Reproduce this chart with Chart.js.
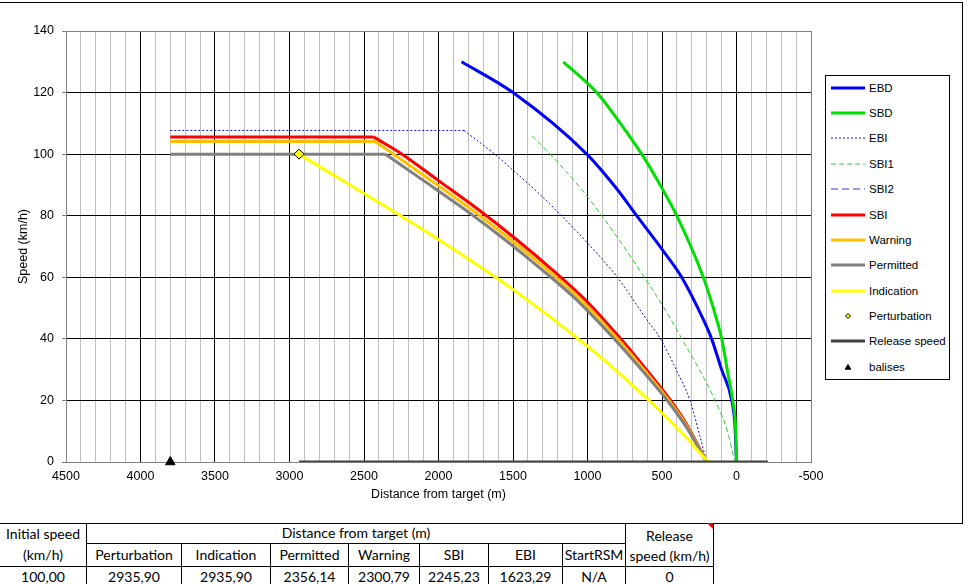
<!DOCTYPE html>
<html>
<head>
<meta charset="utf-8">
<script src="https://cdn.jsdelivr.net/npm/chart.js@4.4.0/dist/chart.umd.min.js"></script>
<style>
html,body{margin:0;padding:0;background:#fff;overflow:hidden;}
#wrap{position:relative;width:970px;height:584px;overflow:hidden;}
#frame{position:absolute;left:-2px;top:2px;width:965px;height:522px;border:1px solid #000;box-sizing:border-box;}
#c{position:absolute;left:0;top:0;}
#legend{position:absolute;left:825px;top:75px;width:125px;height:305px;border:1px solid #000;box-sizing:border-box;background:#fff;font-family:'Liberation Sans',Arial,sans-serif;font-size:11.5px;color:#000;}
.li{position:absolute;left:0;width:120px;height:14px;}
.li svg{position:absolute;left:5px;top:0;}
.li span{position:absolute;left:43px;top:0;line-height:14px;white-space:nowrap;}
#tbl{position:absolute;left:-1px;top:523px;border-collapse:collapse;table-layout:fixed;font-family:Lato,'Open Sans',sans-serif;font-size:14px;color:#000;}
#tbl td{border:1px solid #000;padding:0;text-align:center;white-space:nowrap;overflow:hidden;vertical-align:middle;line-height:17px;}
#tbl td span.up{position:relative;top:-1px;}
#cmt{position:absolute;left:707px;top:523px;width:0;height:0;border-left:6px solid transparent;border-top:6px solid #e00;}
</style>
</head>
<body>
<div id="wrap">
  <div id="frame"></div>
  <canvas id="c" width="970" height="523"></canvas>
  <div id="legend"></div>
  <table id="tbl"></table>
  <div id="cmt"></div>
</div>
<script>
// ---- data (distance from target in m, speed in km/h) ----
const EBD_DIST  = [1845,1500,1005,800,670,491,368,223,167,100,32,10,0];
const EBD_SPEED = [130,120,100,88.5,80,68.5,60,46.3,40,30,20,11.6,0];

const SBD_DIST  = [1162,938,780,636,495,401,223,133,99,62,26,5,0];
const SBD_SPEED = [130,120,110,100,88.5,80,60,46.3,40,30,20,10,0];

const EBI_DIST  = [3800,1829,1623,1498,1319,1175,1001,800,603,510,400,312,245,200];
const EBI_SPEED = [107.7,107.7,100,94.7,86.9,80,71.2,60,46.3,40,29.5,20,8.3,0];

const SBI1_DIST  = [1370,1250,1039,904,757,618,486,401,367,249,144,61,11];
const SBI1_SPEED = [105.9,100,88.5,80,70,60,50,43,40,30,20,10,0];

const SBI2_DIST  = [];
const SBI2_SPEED = [];

const SBI_DIST  = [3800,2437,2245,2000,1733,1475,1240,1005,850,715,580,435,320,200];
const SBI_SPEED = [105.6,105.6,100,91.4,82,72.2,62.6,52.2,44,36.5,28.5,19.5,11,0];

const WARN_DIST  = [3800,2426,2301,2050,1778,1515,1274,1034,874,735,596,446,326,200];
const WARN_SPEED = [104.1,104.1,100,91.4,82,72.2,62.6,52.2,44,36.5,28.5,19.5,11,0];

const PERM_DIST  = [3800,2356,2100,1823,1554,1309,1062,898,755,611,457,332,200];
const PERM_SPEED = [100,100,91.4,82,72.2,62.6,52.2,44,36.5,28.5,19.5,11,0];

const IND_DIST  = [2936,2001,1498,1005,715,502,350,190];
const IND_SPEED = [100,72.3,56,37.8,25.7,16,8.6,0];

const PERT_DIST  = [2935.9];
const PERT_SPEED = [100];

const REL_DIST  = [2936,-210];
const REL_SPEED = [0,0];

const BAL_DIST  = [3800];
const BAL_SPEED = [0];

const X_MIN = -500, X_MAX = 4500, X_STEP = 100, X_LABEL_STEP = 500;
const Y_MIN = 0, Y_MAX = 140, Y_STEP = 20;

const TABLE_GROUP = 'Distance from target (m)';
const TABLE_COLUMNS = ['Perturbation','Indication','Permitted','Warning','SBI','EBI','StartRSM'];
const TABLE_VALUES = ['100,00','2935,90','2935,90','2356,14','2300,79','2245,23','1623,29','N/A','0'];

// ---- series definitions (style) ----
const pts = (xs, ys) => xs.map((x, i) => ({x: x, y: ys[i]}));
const FONT = "'Liberation Sans', Arial, sans-serif";

// flat: number of leading points forming a straight (constant-speed) run before the braking curve
const SERIES = [
  {label:'EBD', xs:EBD_DIST, ys:EBD_SPEED, color:'#0000FF', width:3, curve:true, flat:0},
  {label:'SBD', xs:SBD_DIST, ys:SBD_SPEED, color:'#00E000', width:3, curve:true, flat:0},
  {label:'EBI', xs:EBI_DIST, ys:EBI_SPEED, color:'#1010C0', width:1, dash:[2,2], curve:true, flat:2},
  {label:'SBI1', xs:SBI1_DIST, ys:SBI1_SPEED, color:'#33CC33', width:1, dash:[5,3], curve:true, flat:0},
  {label:'SBI2', xs:SBI2_DIST, ys:SBI2_SPEED, color:'#3333CC', width:1, dash:[7,4], curve:true, flat:0},
  {label:'SBI', xs:SBI_DIST, ys:SBI_SPEED, color:'#FF0000', width:3, curve:true, flat:2},
  {label:'Warning', xs:WARN_DIST, ys:WARN_SPEED, color:'#FFC000', width:3, curve:true, flat:2},
  {label:'Permitted', xs:PERM_DIST, ys:PERM_SPEED, color:'#808080', width:3, curve:true, flat:2},
  {label:'Indication', xs:IND_DIST, ys:IND_SPEED, color:'#FFFF00', width:3, curve:true, flat:0},
  {label:'Perturbation', xs:PERT_DIST, ys:PERT_SPEED, marker:'rectRot', radius:5, fillColor:'#FFFF00', edge:'#000000'},
  {label:'Release speed', xs:REL_DIST, ys:REL_SPEED, color:'#404040', width:3, curve:false, flat:0},
  {label:'balises', xs:BAL_DIST, ys:BAL_SPEED, marker:'triangle', radius:5.5, fillColor:'#000000', edge:'#000000'}
];

const datasets = [];
SERIES.forEach((s, i) => {
  const order = SERIES.length - i;
  const data = pts(s.xs, s.ys);
  if (s.marker) {
    datasets.push({label: s.label, data: data, showLine: false, pointStyle: s.marker, pointRadius: s.radius,
      pointHoverRadius: s.radius, pointBackgroundColor: s.fillColor, pointBorderColor: s.edge, pointBorderWidth: 1,
      backgroundColor: s.fillColor, borderColor: s.edge, clip: false, order: order});
    return;
  }
  const base = {borderColor: s.color, backgroundColor: s.color, borderWidth: s.width, borderDash: s.dash || [],
    pointRadius: 0, pointHoverRadius: 0, showLine: true, fill: false, order: order};
  if (s.flat > 1) {
    datasets.push(Object.assign({}, base, {label: s.label + ' (constant)', data: data.slice(0, s.flat), tension: 0}));
    datasets.push(Object.assign({}, base, {label: s.label, data: data.slice(s.flat - 1),
      cubicInterpolationMode: s.curve ? 'monotone' : 'default', tension: 0}));
  } else {
    datasets.push(Object.assign({}, base, {label: s.label, data: data,
      cubicInterpolationMode: s.curve ? 'monotone' : 'default', tension: 0}));
  }
});

const chart = new Chart(document.getElementById('c'), {
  type: 'scatter',
  data: {datasets: datasets},
  options: {
    responsive: false,
    animation: false,
    devicePixelRatio: 1,
    events: [],
    layout: {padding: {left: 0, top: 31, right: 159, bottom: 0}},
    plugins: {legend: {display: false}, tooltip: {enabled: false}},
    scales: {
      x: {
        type: 'linear', reverse: true, min: X_MIN, max: X_MAX,
        ticks: {stepSize: X_STEP, autoSkip: false, maxRotation: 0, padding: 7, color: '#000',
          font: {family: FONT, size: 12.5},
          callback: v => (Math.round(v) % X_LABEL_STEP === 0 ? String(Math.round(v)) : '')},
        grid: {drawTicks: false, lineWidth: 1,
          color: c => { const v = Math.round(c.tick.value); if (v === X_MIN || v === X_MAX) return '#808080'; return v % X_LABEL_STEP === 0 ? '#000000' : '#C0C0C0'; }},
        border: {color: '#808080', width: 1},
        title: {display: true, text: 'Distance from target (m)', color: '#000', font: {family: FONT, size: 12.5}, padding: {top: 0, bottom: 21}},
        afterFit: s => { s.height = 61; }
      },
      y: {
        type: 'linear', min: Y_MIN, max: Y_MAX,
        ticks: {stepSize: Y_STEP, padding: 8, color: '#000', font: {family: FONT, size: 12.5}},
        grid: {tickLength: 4, tickColor: '#808080', lineWidth: 1,
          color: c => { const v = Math.round(c.tick.value); return (v === Y_MIN || v === Y_MAX) ? '#808080' : '#000000'; }},
        border: {color: '#808080', width: 1},
        title: {display: true, text: 'Speed (km/h)', color: '#000', font: {family: FONT, size: 12.5}, padding: {top: 16, bottom: 0}},
        afterFit: s => { s.width = 66; }
      }
    }
  }
});

// ---- legend (HTML, one entry per series, styled from the chart's datasets) ----
(function buildLegend() {
  const lg = document.getElementById('legend');
  const NS = 'http://www.w3.org/2000/svg';
  SERIES.forEach((s, i) => {
    const ds = chart.data.datasets.find(d => d.label === s.label);
    const cy = 11.7 + i * 25.36;
    const item = document.createElement('div');
    item.className = 'li';
    item.style.top = (cy - 7) + 'px';
    const svg = document.createElementNS(NS, 'svg');
    svg.setAttribute('width', '36'); svg.setAttribute('height', '14');
    if (ds.showLine) {
      const ln = document.createElementNS(NS, 'line');
      ln.setAttribute('x1', '0'); ln.setAttribute('x2', '34');
      ln.setAttribute('y1', '7'); ln.setAttribute('y2', '7');
      ln.setAttribute('stroke', ds.borderColor);
      ln.setAttribute('stroke-width', ds.borderWidth);
      if (ds.borderDash && ds.borderDash.length) ln.setAttribute('stroke-dasharray', ds.borderDash.join(','));
      svg.appendChild(ln);
    } else {
      const p = document.createElementNS(NS, 'polygon');
      if (ds.pointStyle === 'rectRot') p.setAttribute('points', '17,4.5 19.5,7 17,9.5 14.5,7');
      else p.setAttribute('points', '17,4.5 19.8,9.2 14.2,9.2');
      p.setAttribute('fill', ds.pointBackgroundColor);
      p.setAttribute('stroke', ds.pointBorderColor);
      p.setAttribute('stroke-width', '1');
      svg.appendChild(p);
    }
    item.appendChild(svg);
    const sp = document.createElement('span');
    sp.textContent = s.label;
    item.appendChild(sp);
    lg.appendChild(item);
  });
})();

// ---- table ----
(function buildTable() {
  const t = document.getElementById('tbl');
  const widths = [87, 95, 89, 78, 71, 69, 74, 63, 88];
  const cg = document.createElement('colgroup');
  widths.forEach(w => { const c = document.createElement('col'); c.style.width = w + 'px'; cg.appendChild(c); });
  t.appendChild(cg);
  const up = (cell, text) => { const s = document.createElement('span'); s.className = 'up'; s.textContent = text; cell.appendChild(s); };
  const r1 = t.insertRow(); r1.style.height = '20px';
  const a = r1.insertCell(); a.rowSpan = 2; a.style.lineHeight = '21px';
  up(a, 'Initial speed'); a.appendChild(document.createElement('br')); up(a, '(km/h)');
  const b = r1.insertCell(); b.colSpan = TABLE_COLUMNS.length; up(b, TABLE_GROUP);
  const c = r1.insertCell(); c.rowSpan = 2; c.innerHTML = 'Release<br>speed (km/h)'; c.style.lineHeight = '20px'; c.style.verticalAlign = 'bottom';
  const r2 = t.insertRow(); r2.style.height = '22px';
  TABLE_COLUMNS.forEach(h => { const d = r2.insertCell(); up(d, h); });
  const r3 = t.insertRow(); r3.style.height = '19px';
  TABLE_VALUES.forEach(v => { const d = r3.insertCell(); d.textContent = v; d.style.verticalAlign = 'bottom'; });
})();
</script>
</body>
</html>
